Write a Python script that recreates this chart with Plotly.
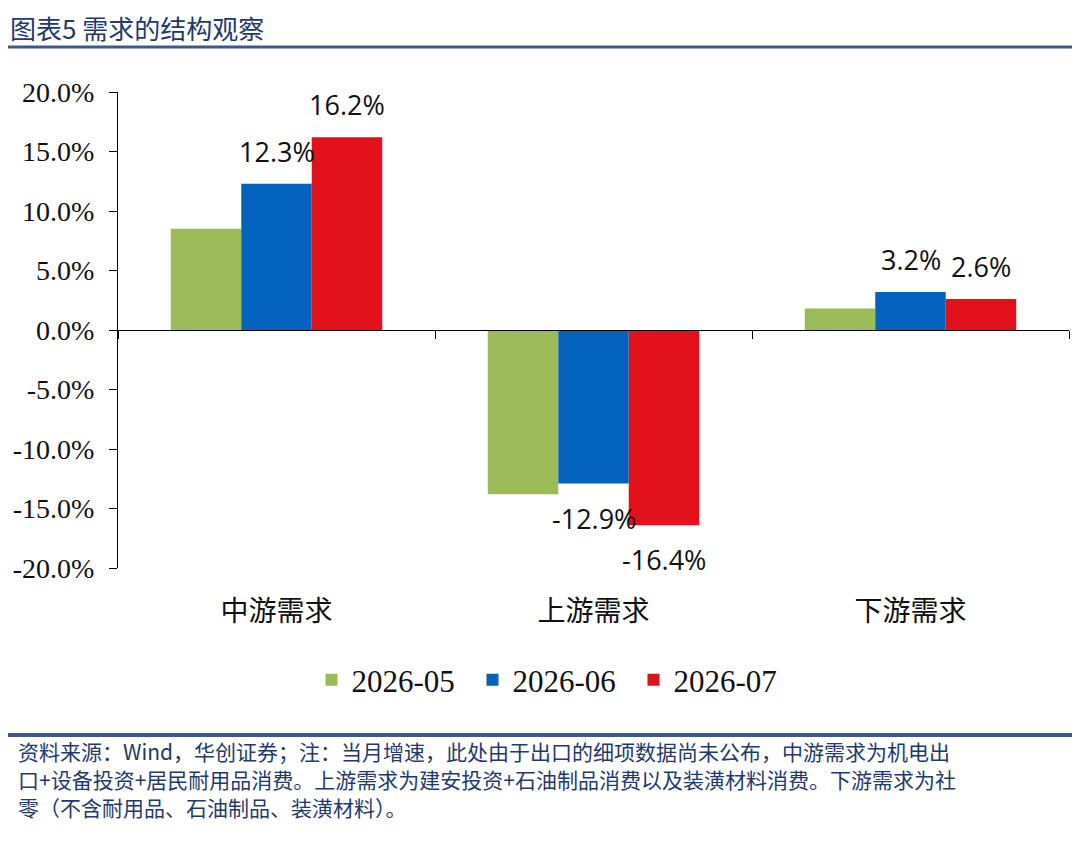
import plotly.graph_objects as go

# données (croissance en %)
categories = ["中游需求", "上游需求", "下游需求"]
series_names = ["2026-05", "2026-06", "2026-07"]
values_05 = [8.5, -13.8, 1.8]
values_06 = [12.3, -12.9, 3.2]
values_07 = [16.2, -16.4, 2.6]
# étiquettes affichées (la série verte n'en a pas)
show_labels = [False, True, True]
y_ticks = [20, 15, 10, 5, 0, -5, -10, -15, -20]

colors = ["#9BBB59", "#0563C0", "#E3111B"]
navy = "#1F3A6B"

title_txt = "图表5 需求的结构观察"
source_lines = ["资料来源：Wind，华创证券；注：当月增速，此处由于出口的细项数据尚未公布，中游需求为机电出",
                "口+设备投资+居民耐用品消费。上游需求为建安投资+石油制品消费以及装潢材料消费。下游需求为社",
                "零（不含耐用品、石油制品、装潢材料）。"]

all_values = [values_05, values_06, values_07]

# zone de tracé en pixels de la page (la page html ajoute 8 px de marge)
PL, PR, PT, PB = 118, 1069, 92, 568
PW, PH = PR - PL, PB - PT


def px_x(x):
    return (x - PL) / PW


def px_y(y):
    return (PB - y) / PH


fig = go.Figure()
for name, vals, col in zip(series_names, all_values, colors):
    fig.add_trace(go.Bar(x=categories, y=vals, name=name,
                         marker=dict(color=col, line=dict(width=0))))

# étiquettes de valeurs, décalées au-dessus / en dessous des barres
bar_px = 317 * (1 - 0.333) / 3
for i, (vals, show) in enumerate(zip(all_values, show_labels)):
    if not show:
        continue
    for cat, v in zip(categories, vals):
        fig.add_annotation(x=cat, y=v, text=f"{v:.1f}%", showarrow=False,
                           xshift=(i - 1) * bar_px,
                           yanchor="bottom" if v >= 0 else "top",
                           yshift=12 if v >= 0 else -14,
                           font=dict(family="Open Sans", size=27, color="#111111"))

# titre et source
fig.add_annotation(text=title_txt, xref="paper", yref="paper", x=px_x(8), y=px_y(27),
                   xanchor="left", yanchor="middle", showarrow=False,
                   font=dict(family="Noto Sans CJK SC", size=26, color=navy))
for k, line in enumerate(source_lines):
    fig.add_annotation(text=line, xref="paper", yref="paper", x=px_x(16), y=px_y(751 + 28 * k),
                       xanchor="left", yanchor="middle", showarrow=False, align="left",
                       font=dict(family="Noto Sans CJK SC", size=21, color=navy))

# filets horizontaux
fig.add_shape(type="line", xref="paper", yref="paper", x0=px_x(0), x1=px_x(1080),
              y0=px_y(47), y1=px_y(47), line=dict(color="#3A5A8C", width=3))
fig.add_shape(type="line", xref="paper", yref="paper", x0=px_x(0), x1=px_x(1080),
              y0=px_y(735), y1=px_y(735), line=dict(color="#3A5A8C", width=4))

fig.update_layout(
    width=1080, height=853,
    margin=dict(l=PL - 8, r=1080 + 8 - PR, t=PT - 8, b=853 + 8 - PB),
    paper_bgcolor="white", plot_bgcolor="white",
    barmode="group", bargap=0.333, bargroupgap=0,
    legend=dict(orientation="h", xref="container", yref="container",
                x=(553 - 8) / 1080, xanchor="center", y=1 - (680 - 8) / 853, yanchor="middle",
                font=dict(family="Liberation Serif", size=31, color="#111111"),
                itemsizing="constant", traceorder="normal", entrywidth=116),
    showlegend=True,
)

fig.update_xaxes(anchor="free", position=0.5, showline=True, linecolor="black", linewidth=1,
                 ticks="outside", tickson="boundaries", ticklen=8, tickcolor="black",
                 ticklabelstandoff=256, showgrid=False, zeroline=False, automargin=False,
                 tickfont=dict(family="Noto Sans CJK SC", size=28, color="#111111"))
fig.update_yaxes(range=[-20, 20], tickvals=y_ticks, ticktext=[f"{t:.1f}%" for t in y_ticks],
                 showline=True, linecolor="black", linewidth=1, ticks="outside", ticklen=8,
                 tickcolor="black", showgrid=False, zeroline=True, zerolinecolor="black",
                 zerolinewidth=1, automargin=False, ticklabelstandoff=9,
                 tickfont=dict(family="Liberation Serif", size=28, color="#111111"))

fig.write_html("out.html")
